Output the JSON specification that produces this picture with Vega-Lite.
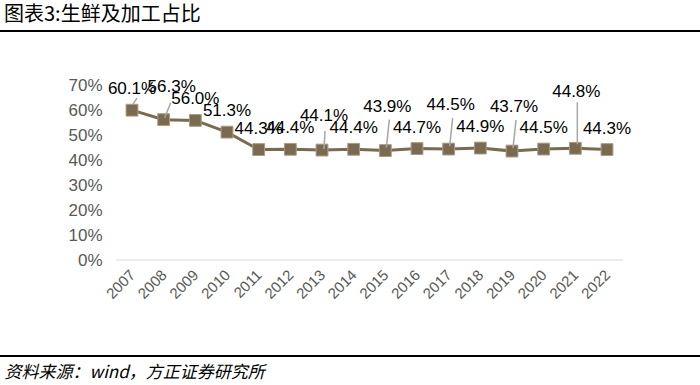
{
  "$schema": "https://vega.github.io/schema/vega-lite/v6.json",
  "width": 700,
  "height": 385,
  "autosize": {"type": "none"},
  "padding": 0,
  "background": "white",
  "config": {"view": {"stroke": null}, "font": "Liberation Sans"},
  "title": {
    "text": "图表3:生鲜及加工占比",
    "anchor": "start",
    "frame": "group",
    "orient": "top",
    "offset": -41,
    "dx": 4,
    "font": "Noto Sans CJK SC",
    "fontSize": 20,
    "fontWeight": "normal",
    "color": "#000000",
    "baseline": "alphabetic"
  },
  "data": {
    "values": [
      {"year": "2007", "v": 0.601},
      {"year": "2008", "v": 0.563},
      {"year": "2009", "v": 0.560},
      {"year": "2010", "v": 0.513},
      {"year": "2011", "v": 0.443},
      {"year": "2012", "v": 0.444},
      {"year": "2013", "v": 0.441},
      {"year": "2014", "v": 0.444},
      {"year": "2015", "v": 0.439},
      {"year": "2016", "v": 0.447},
      {"year": "2017", "v": 0.445},
      {"year": "2018", "v": 0.449},
      {"year": "2019", "v": 0.437},
      {"year": "2020", "v": 0.445},
      {"year": "2021", "v": 0.448},
      {"year": "2022", "v": 0.443}
    ]
  },
  "layer": [
    {
      "data": {"values": [{}]},
      "mark": {"type": "rule", "color": "#000000", "strokeWidth": 2},
      "encoding": {
        "y": {"datum": 0.9186, "type": "quantitative", "scale": {"domain": [-0.5014, 1.043], "nice": false, "zero": false}}
      }
    },
    {
      "data": {"values": [{}]},
      "mark": {"type": "rule", "color": "#000000", "strokeWidth": 2},
      "encoding": {
        "y": {"datum": -0.385, "type": "quantitative", "scale": {"domain": [-0.5014, 1.043], "nice": false, "zero": false}}
      }
    },
    {
      "data": {"values": [{}]},
      "mark": {"type": "rule", "color": "#D9D9D9", "strokeWidth": 1, "xOffset": -16, "x2Offset": 16},
      "encoding": {
        "x": {"datum": "2007", "type": "ordinal", "scale": {"type": "point", "padding": 0, "range": [132, 607]}},
        "x2": {"datum": "2022"},
        "y": {"datum": 0, "type": "quantitative", "scale": {"domain": [-0.5014, 1.043], "nice": false, "zero": false}}
      }
    },
    {
      "mark": {"type": "line", "color": "#7A6A50", "strokeWidth": 3},
      "encoding": {
        "x": {
          "field": "year",
          "type": "ordinal",
          "scale": {"type": "point", "padding": 0, "range": [132, 607]},
          "axis": {
            "orient": "bottom",
            "offset": -125,
            "domain": false,
            "ticks": false,
            "grid": false,
            "labelAngle": -45,
            "labelAlign": "right",
            "labelBaseline": "middle",
            "labelPadding": 12,
            "labelFontSize": 15,
            "labelColor": "#595959",
            "labelFont": "Liberation Sans",
            "title": "资料来源：wind，方正证券研究所",
            "titleX": 4,
            "titleY": 112,
            "titleAlign": "left",
            "titleBaseline": "middle",
            "titleAngle": 0,
            "titleFont": "Noto Sans CJK SC",
            "titleFontSize": 17,
            "titleFontWeight": "normal",
            "titleFontStyle": "italic",
            "titleColor": "#000000"
          }
        },
        "y": {
          "field": "v",
          "type": "quantitative",
          "scale": {"domain": [-0.5014, 1.043], "nice": false, "zero": false},
          "axis": {
            "orient": "left",
            "offset": -113,
            "values": [0, 0.1, 0.2, 0.3, 0.4, 0.5, 0.6, 0.7],
            "format": ".0%",
            "domain": false,
            "ticks": false,
            "grid": false,
            "labelPadding": 11,
            "labelFontSize": 17,
            "labelColor": "#595959",
            "labelFont": "Liberation Sans",
            "title": null
          }
        }
      }
    },
    {
      "mark": {"type": "point", "shape": "square", "filled": true, "size": 140, "color": "#7A6A50", "stroke": "#A89C86", "strokeWidth": 1, "opacity": 1},
      "encoding": {
        "x": {"field": "year", "type": "ordinal", "scale": {"type": "point", "padding": 0, "range": [132, 607]}},
        "y": {"field": "v", "type": "quantitative"}
      }
    },
    {
      "transform": [{"filter": {"field": "year", "oneOf": ["2007"]}}],
      "mark": {"type": "rule", "color": "#A6A6A6", "strokeWidth": 1.5, "xOffset": 1, "x2Offset": 5, "yOffset": -6, "y2Offset": -12},
      "encoding": {
        "x": {"field": "year", "type": "ordinal"},
        "x2": {"field": "year"},
        "y": {"field": "v", "type": "quantitative"},
        "y2": {"field": "v"}
      }
    },
    {
      "transform": [{"filter": {"field": "year", "oneOf": ["2008"]}}],
      "mark": {"type": "rule", "color": "#A6A6A6", "strokeWidth": 1.5, "xOffset": 1, "x2Offset": 7, "yOffset": -2, "y2Offset": -17},
      "encoding": {
        "x": {"field": "year", "type": "ordinal"},
        "x2": {"field": "year"},
        "y": {"field": "v", "type": "quantitative"},
        "y2": {"field": "v"}
      }
    },
    {
      "transform": [{"filter": {"field": "year", "oneOf": ["2013"]}}],
      "mark": {"type": "rule", "color": "#A6A6A6", "strokeWidth": 1.5, "xOffset": 2, "x2Offset": 3, "yOffset": -1, "y2Offset": -19},
      "encoding": {
        "x": {"field": "year", "type": "ordinal"},
        "x2": {"field": "year"},
        "y": {"field": "v", "type": "quantitative"},
        "y2": {"field": "v"}
      }
    },
    {
      "transform": [{"filter": {"field": "year", "oneOf": ["2015", "2017", "2019"]}}],
      "mark": {"type": "rule", "color": "#A6A6A6", "strokeWidth": 1.5, "xOffset": 1, "x2Offset": 4, "yOffset": -3, "y2Offset": -31},
      "encoding": {
        "x": {"field": "year", "type": "ordinal"},
        "x2": {"field": "year"},
        "y": {"field": "v", "type": "quantitative"},
        "y2": {"field": "v"}
      }
    },
    {
      "transform": [{"filter": {"field": "year", "oneOf": ["2021"]}}],
      "mark": {"type": "rule", "color": "#A6A6A6", "strokeWidth": 1.5, "xOffset": 2, "x2Offset": 2, "yOffset": -4, "y2Offset": -46},
      "encoding": {
        "x": {"field": "year", "type": "ordinal"},
        "x2": {"field": "year"},
        "y": {"field": "v", "type": "quantitative"},
        "y2": {"field": "v"}
      }
    },
    {
      "transform": [{"filter": {"field": "year", "oneOf": ["2007", "2009", "2010", "2011", "2012", "2014", "2016", "2018", "2020", "2022"]}}],
      "mark": {"type": "text", "fontSize": 17, "color": "#000000", "align": "center", "baseline": "middle", "dy": -21, "font": "Liberation Sans"},
      "encoding": {
        "x": {"field": "year", "type": "ordinal"},
        "y": {"field": "v", "type": "quantitative"},
        "text": {"field": "v", "format": ".1%"}
      }
    },
    {
      "transform": [{"filter": {"field": "year", "oneOf": ["2008"]}}],
      "mark": {"type": "text", "fontSize": 17, "color": "#000000", "align": "center", "baseline": "middle", "dx": 8, "dy": -33, "font": "Liberation Sans"},
      "encoding": {
        "x": {"field": "year", "type": "ordinal"},
        "y": {"field": "v", "type": "quantitative"},
        "text": {"field": "v", "format": ".1%"}
      }
    },
    {
      "transform": [{"filter": {"field": "year", "oneOf": ["2013"]}}],
      "mark": {"type": "text", "fontSize": 17, "color": "#000000", "align": "center", "baseline": "middle", "dx": 2, "dy": -34, "font": "Liberation Sans"},
      "encoding": {
        "x": {"field": "year", "type": "ordinal"},
        "y": {"field": "v", "type": "quantitative"},
        "text": {"field": "v", "format": ".1%"}
      }
    },
    {
      "transform": [{"filter": {"field": "year", "oneOf": ["2015", "2017", "2019"]}}],
      "mark": {"type": "text", "fontSize": 17, "color": "#000000", "align": "center", "baseline": "middle", "dx": 2, "dy": -44, "font": "Liberation Sans"},
      "encoding": {
        "x": {"field": "year", "type": "ordinal"},
        "y": {"field": "v", "type": "quantitative"},
        "text": {"field": "v", "format": ".1%"}
      }
    },
    {
      "transform": [{"filter": {"field": "year", "oneOf": ["2021"]}}],
      "mark": {"type": "text", "fontSize": 17, "color": "#000000", "align": "center", "baseline": "middle", "dx": 1, "dy": -56, "font": "Liberation Sans"},
      "encoding": {
        "x": {"field": "year", "type": "ordinal"},
        "y": {"field": "v", "type": "quantitative"},
        "text": {"field": "v", "format": ".1%"}
      }
    }
  ]
}
